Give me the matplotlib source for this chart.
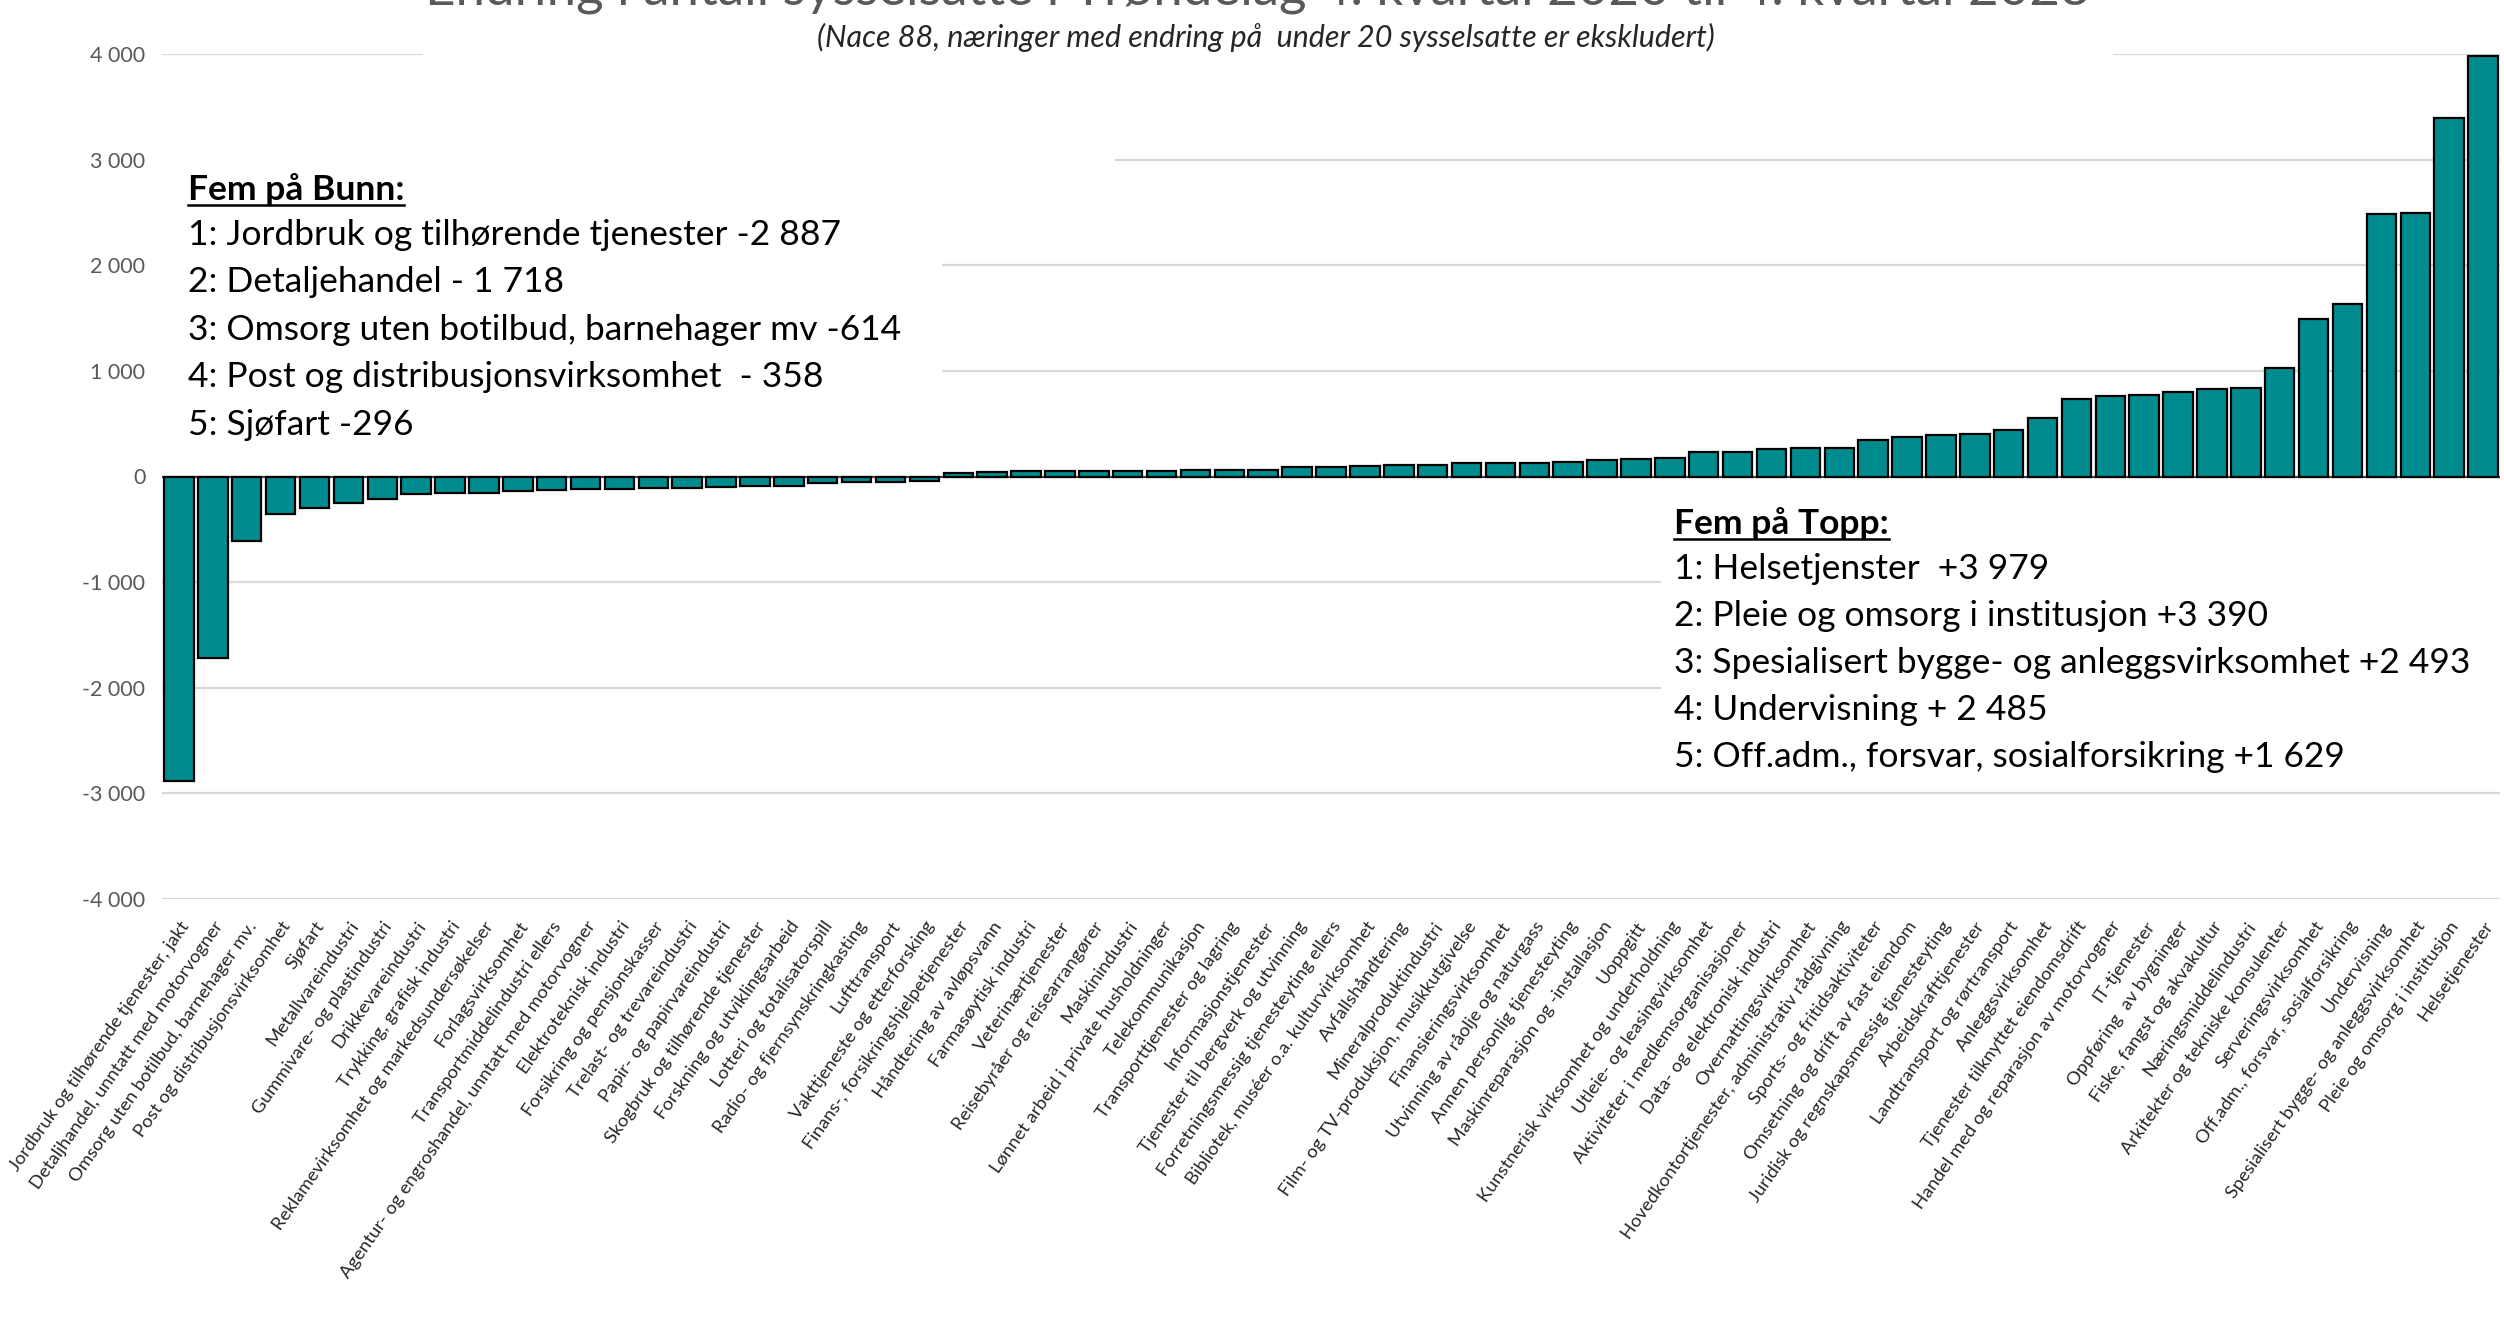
import matplotlib.pyplot as plt
from matplotlib.patches import Rectangle
from matplotlib.lines import Line2D
from matplotlib.ticker import FuncFormatter

plt.rcParams['font.family'] = ['Lato', 'DejaVu Sans']

naeringer = [
    "Jordbruk og tilhørende tjenester, jakt",
    "Detaljhandel, unntatt med motorvogner",
    "Omsorg uten botilbud, barnehager mv.",
    "Post og distribusjonsvirksomhet",
    "Sjøfart",
    "Metallvareindustri",
    "Gummivare- og plastindustri",
    "Drikkevareindustri",
    "Trykking, grafisk industri",
    "Reklamevirksomhet og markedsundersøkelser",
    "Forlagsvirksomhet",
    "Transportmiddelindustri ellers",
    "Agentur- og engroshandel, unntatt med motorvogner",
    "Elektroteknisk industri",
    "Forsikring og pensjonskasser",
    "Trelast- og trevareindustri",
    "Papir- og papirvareindustri",
    "Skogbruk og tilhørende tjenester",
    "Forskning og utviklingsarbeid",
    "Lotteri og totalisatorspill",
    "Radio- og fjernsynskringkasting",
    "Lufttransport",
    "Vakttjeneste og etterforsking",
    "Finans-, forsikringshjelpetjenester",
    "Håndtering av avløpsvann",
    "Farmasøytisk industri",
    "Veterinærtjenester",
    "Reisebyråer og reisearrangører",
    "Maskinindustri",
    "Lønnet arbeid i private husholdninger",
    "Telekommunikasjon",
    "Transporttjenester og lagring",
    "Informasjonstjenester",
    "Tjenester til bergverk og utvinning",
    "Forretningsmessig tjenesteyting ellers",
    "Bibliotek, muséer o.a. kulturvirksomhet",
    "Avfallshåndtering",
    "Mineralproduktindustri",
    "Film- og TV-produksjon, musikkutgivelse",
    "Finansieringsvirksomhet",
    "Utvinning av råolje og naturgass",
    "Annen personlig tjenesteyting",
    "Maskinreparasjon og -installasjon",
    "Uoppgitt",
    "Kunstnerisk virksomhet og underholdning",
    "Utleie- og leasingvirksomhet",
    "Aktiviteter i medlemsorganisasjoner",
    "Data- og elektronisk industri",
    "Overnattingsvirksomhet",
    "Hovedkontortjenester, administrativ rådgivning",
    "Sports- og fritidsaktiviteter",
    "Omsetning og drift av fast eiendom",
    "Juridisk og regnskapsmessig tjenesteyting",
    "Arbeidskrafttjenester",
    "Landtransport og rørtransport",
    "Anleggsvirksomhet",
    "Tjenester tilknyttet eiendomsdrift",
    "Handel med og reparasjon av motorvogner",
    "IT-tjenester",
    "Oppføring  av bygninger",
    "Fiske, fangst og akvakultur",
    "Næringsmiddelindustri",
    "Arkitekter og tekniske konsulenter",
    "Serveringsvirksomhet",
    "Off.adm., forsvar, sosialforsikring",
    "Undervisning",
    "Spesialisert bygge- og anleggsvirksomhet",
    "Pleie og omsorg i institusjon",
    "Helsetjenester",
]

endring = [
    -2887, -1718, -614, -358, -296, -249, -211, -162, -152, -152,
    -140, -128, -121, -121, -109, -109, -96, -87, -87, -62,
    -53, -53, -40, 36, 40, 49, 49, 49, 49, 49,
    61, 61, 61, 92, 92, 101, 113, 113, 125, 125,
    125, 134, 156, 168, 177, 229, 229, 260, 272, 272,
    342, 373, 396, 405, 443, 554, 737, 759, 772, 797,
    829, 842, 1025, 1494, 1629, 2485, 2493, 3390, 3979,
]

bunn_tekst = [
    "1: Jordbruk og tilhørende tjenester -2 887",
    "2: Detaljehandel - 1 718",
    "3: Omsorg uten botilbud, barnehager mv -614",
    "4: Post og distribusjonsvirksomhet  - 358",
    "5: Sjøfart -296",
]
topp_tekst = [
    "1: Helsetjenster  +3 979",
    "2: Pleie og omsorg i institusjon +3 390",
    "3: Spesialisert bygge- og anleggsvirksomhet +2 493",
    "4: Undervisning + 2 485",
    "5: Off.adm., forsvar, sosialforsikring +1 629",
]

W, H = 2504, 1337
TEAL = '#008b8e'


def fx(x):
    return x / W


def fy(y):
    return 1 - y / H


fig = plt.figure(figsize=(W / 100, H / 100), dpi=100)
ax = fig.add_axes([fx(162), fy(899), (2500 - 162) / W, (899 - 54) / H])

x = range(len(endring))
ax.bar(x, endring, width=0.87, color=TEAL, edgecolor='black', linewidth=1.6, zorder=3)
ax.axhline(0, color='#404040', lw=1.5, zorder=2.5)

ax.set_xlim(-0.5, len(endring) - 0.5)
ax.set_ylim(-4000, 4000)
ax.set_yticks(range(-4000, 4001, 1000))
ax.yaxis.set_major_formatter(FuncFormatter(lambda v, p: f"{int(v):,}".replace(",", " ")))
ax.grid(axis='y', color='#d9d9d9', lw=1.6, zorder=0)
ax.set_axisbelow(True)
for s in ax.spines.values():
    s.set_visible(False)
ax.tick_params(axis='y', length=0, pad=12, labelsize=15.5, labelcolor='#595959')
ax.tick_params(axis='x', length=0, pad=14)
ax.set_xticks(list(x))
ax.set_xticklabels(naeringer, rotation=55, ha='right', va='top',
                   rotation_mode='anchor', fontsize=13.3, color='#262626')

# hvite tekstbokser som dekker rutenettet
for (x0, y0, x1, y1) in [(423, 0, 2113, 62), (160, 140, 1115, 200),
                         (160, 200, 942, 463), (1661, 498, 2504, 783)]:
    fig.add_artist(Rectangle((fx(x0), fy(y1)), (x1 - x0) / W, (y1 - y0) / H,
                             transform=fig.transFigure, facecolor='white',
                             edgecolor='none', zorder=5))

fig.text(fx(1258), fy(4), "Endring i antall sysselsatte i Trøndelag 4. kvartal 2020 til 4. kvartal 2023",
         ha='center', va='baseline', fontsize=38, color='#595959', zorder=6)
fig.text(fx(1266), fy(37), "(Nace 88, næringer med endring på  under 20 sysselsatte er ekskludert)",
         ha='center', va='center', fontsize=22, style='italic', color='#262626', zorder=6)

h1 = fig.text(fx(188), fy(200), "Fem på Bunn:", ha='left', va='baseline',
              fontsize=25.5, fontweight='bold', zorder=6)
h2 = fig.text(fx(1674), fy(534), "Fem på Topp:", ha='left', va='baseline',
              fontsize=25.5, fontweight='bold', zorder=6)
headers = [(h1, 200), (h2, 534)]

for i, t in enumerate(bunn_tekst):
    fig.text(fx(188), fy(235 + i * 47.5), t, ha='left', va='center', fontsize=25.5, zorder=6)
for i, t in enumerate(topp_tekst):
    fig.text(fx(1674), fy(569 + i * 47), t, ha='left', va='center', fontsize=25.5, zorder=6)

fig.canvas.draw()
for h, base in headers:
    bb = h.get_window_extent().transformed(fig.transFigure.inverted())
    fig.add_artist(Line2D([bb.x0, bb.x1], [fy(base + 5)] * 2, transform=fig.transFigure,
                          color='black', lw=1.8, zorder=6))

fig.savefig('out.png', dpi=100, facecolor='white')
